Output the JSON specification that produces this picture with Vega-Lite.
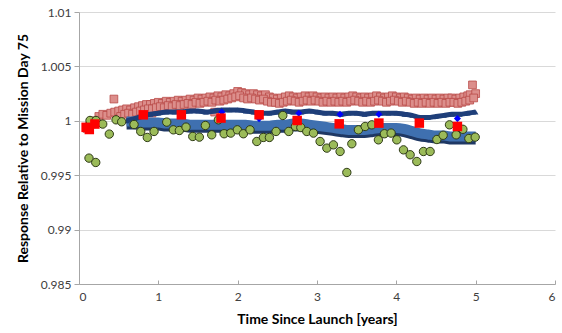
{
  "$schema": "https://vega.github.io/schema/vega-lite/v6.json",
  "width": 476,
  "height": 272,
  "autosize": {"type": "none"},
  "padding": {"left": 79, "top": 12, "right": 6, "bottom": 49},
  "background": "white",
  "config": {
    "view": {"stroke": null},
    "font": "Lato",
    "axis": {"labelFont": "Lato", "titleFont": "Lato", "labelColor": "#404040", "titleColor": "#000000", "domainColor": "#a6a6a6", "tickColor": "#a6a6a6", "gridColor": "#d9d9d9"}
  },
  "datasets": {
    "pink": [
      {"t": 0.10, "v": 0.9993}, {"t": 0.13, "v": 0.9995}, {"t": 0.16, "v": 0.9997}, {"t": 0.20, "v": 1.0000},
      {"t": 0.25, "v": 1.0004}, {"t": 0.30, "v": 1.0006}, {"t": 0.35, "v": 1.0005}, {"t": 0.40, "v": 1.0007},
      {"t": 0.44, "v": 1.0020}, {"t": 0.45, "v": 1.0008}, {"t": 0.50, "v": 1.0009}, {"t": 0.55, "v": 1.0010},
      {"t": 0.60, "v": 1.0011}, {"t": 0.65, "v": 1.0010}, {"t": 0.70, "v": 1.0012}, {"t": 0.75, "v": 1.0013},
      {"t": 0.80, "v": 1.0014}, {"t": 0.85, "v": 1.0015}, {"t": 0.90, "v": 1.0015}, {"t": 0.92, "v": 1.0007},
      {"t": 0.95, "v": 1.0016}, {"t": 1.00, "v": 1.0017}, {"t": 1.05, "v": 1.0016}, {"t": 1.10, "v": 1.0018},
      {"t": 1.15, "v": 1.0017}, {"t": 1.20, "v": 1.0018}, {"t": 1.25, "v": 1.0019}, {"t": 1.30, "v": 1.0018},
      {"t": 1.35, "v": 1.0019}, {"t": 1.40, "v": 1.0020}, {"t": 1.45, "v": 1.0019}, {"t": 1.50, "v": 1.0021},
      {"t": 1.55, "v": 1.0020}, {"t": 1.60, "v": 1.0021}, {"t": 1.65, "v": 1.0022}, {"t": 1.70, "v": 1.0021},
      {"t": 1.71, "v": 1.0008}, {"t": 1.75, "v": 1.0023}, {"t": 1.80, "v": 1.0022}, {"t": 1.85, "v": 1.0024},
      {"t": 1.90, "v": 1.0023}, {"t": 1.95, "v": 1.0025}, {"t": 2.00, "v": 1.0027}, {"t": 2.05, "v": 1.0026},
      {"t": 2.10, "v": 1.0025}, {"t": 2.15, "v": 1.0024}, {"t": 2.20, "v": 1.0025}, {"t": 2.25, "v": 1.0024},
      {"t": 2.30, "v": 1.0023}, {"t": 2.35, "v": 1.0024}, {"t": 2.40, "v": 1.0022}, {"t": 2.45, "v": 1.0021},
      {"t": 2.50, "v": 1.0020}, {"t": 2.55, "v": 1.0021}, {"t": 2.60, "v": 1.0022}, {"t": 2.65, "v": 1.0023},
      {"t": 2.70, "v": 1.0022}, {"t": 2.75, "v": 1.0021}, {"t": 2.80, "v": 1.0022}, {"t": 2.85, "v": 1.0023},
      {"t": 2.90, "v": 1.0022}, {"t": 2.95, "v": 1.0023}, {"t": 3.00, "v": 1.0022}, {"t": 3.05, "v": 1.0021},
      {"t": 3.10, "v": 1.0022}, {"t": 3.15, "v": 1.0021}, {"t": 3.20, "v": 1.0022}, {"t": 3.25, "v": 1.0021},
      {"t": 3.30, "v": 1.0022}, {"t": 3.35, "v": 1.0021}, {"t": 3.40, "v": 1.0022}, {"t": 3.45, "v": 1.0023},
      {"t": 3.50, "v": 1.0022}, {"t": 3.55, "v": 1.0021}, {"t": 3.60, "v": 1.0022}, {"t": 3.65, "v": 1.0021},
      {"t": 3.70, "v": 1.0022}, {"t": 3.75, "v": 1.0023}, {"t": 3.80, "v": 1.0022}, {"t": 3.85, "v": 1.0021},
      {"t": 3.90, "v": 1.0022}, {"t": 3.95, "v": 1.0023}, {"t": 4.00, "v": 1.0022}, {"t": 4.05, "v": 1.0021},
      {"t": 4.10, "v": 1.0022}, {"t": 4.15, "v": 1.0021}, {"t": 4.20, "v": 1.0020}, {"t": 4.25, "v": 1.0021},
      {"t": 4.30, "v": 1.0020}, {"t": 4.35, "v": 1.0021}, {"t": 4.40, "v": 1.0020}, {"t": 4.45, "v": 1.0021},
      {"t": 4.50, "v": 1.0020}, {"t": 4.55, "v": 1.0021}, {"t": 4.60, "v": 1.0020}, {"t": 4.65, "v": 1.0021},
      {"t": 4.70, "v": 1.0021}, {"t": 4.75, "v": 1.0020}, {"t": 4.80, "v": 1.0021}, {"t": 4.85, "v": 1.0022},
      {"t": 4.90, "v": 1.0023}, {"t": 4.93, "v": 1.0024}, {"t": 4.96, "v": 1.0033}, {"t": 5.00, "v": 1.0025},
      {"t": 0.525, "v": 1.0004}, {"t": 0.575, "v": 1.0006}, {"t": 0.625, "v": 1.0007}, {"t": 0.675, "v": 1.0006},
      {"t": 0.725, "v": 1.0008}, {"t": 0.775, "v": 1.0009}, {"t": 0.825, "v": 1.0010}, {"t": 0.875, "v": 1.0011},
      {"t": 0.925, "v": 1.0011}, {"t": 0.975, "v": 1.0012}, {"t": 1.025, "v": 1.0013}, {"t": 1.075, "v": 1.0012},
      {"t": 1.125, "v": 1.0014}, {"t": 1.175, "v": 1.0013}, {"t": 1.225, "v": 1.0015}, {"t": 1.275, "v": 1.0014},
      {"t": 1.325, "v": 1.0015}, {"t": 1.375, "v": 1.0016}, {"t": 1.425, "v": 1.0015}, {"t": 1.475, "v": 1.0017},
      {"t": 1.525, "v": 1.0016}, {"t": 1.575, "v": 1.0017}, {"t": 1.625, "v": 1.0018}, {"t": 1.675, "v": 1.0017},
      {"t": 1.725, "v": 1.0019}, {"t": 1.775, "v": 1.0018}, {"t": 1.825, "v": 1.0019}, {"t": 1.875, "v": 1.0020},
      {"t": 1.925, "v": 1.0021}, {"t": 1.975, "v": 1.0022}, {"t": 2.025, "v": 1.0023}, {"t": 2.075, "v": 1.0021},
      {"t": 2.125, "v": 1.0020}, {"t": 2.175, "v": 1.0021}, {"t": 2.225, "v": 1.0020}, {"t": 2.275, "v": 1.0019},
      {"t": 2.325, "v": 1.0020}, {"t": 2.375, "v": 1.0018}, {"t": 2.425, "v": 1.0017}, {"t": 2.475, "v": 1.0017},
      {"t": 2.525, "v": 1.0016}, {"t": 2.575, "v": 1.0017}, {"t": 2.625, "v": 1.0018}, {"t": 2.675, "v": 1.0019},
      {"t": 2.725, "v": 1.0018}, {"t": 2.775, "v": 1.0017}, {"t": 2.825, "v": 1.0018}, {"t": 2.875, "v": 1.0019},
      {"t": 2.925, "v": 1.0018}, {"t": 2.975, "v": 1.0019}, {"t": 3.025, "v": 1.0018}, {"t": 3.075, "v": 1.0017},
      {"t": 3.125, "v": 1.0018}, {"t": 3.175, "v": 1.0017}, {"t": 3.225, "v": 1.0018}, {"t": 3.275, "v": 1.0017},
      {"t": 3.325, "v": 1.0018}, {"t": 3.375, "v": 1.0017}, {"t": 3.425, "v": 1.0018}, {"t": 3.475, "v": 1.0019},
      {"t": 3.525, "v": 1.0018}, {"t": 3.575, "v": 1.0017}, {"t": 3.625, "v": 1.0018}, {"t": 3.675, "v": 1.0017},
      {"t": 3.725, "v": 1.0018}, {"t": 3.775, "v": 1.0019}, {"t": 3.825, "v": 1.0018}, {"t": 3.875, "v": 1.0017},
      {"t": 3.925, "v": 1.0018}, {"t": 3.975, "v": 1.0019}, {"t": 4.025, "v": 1.0018}, {"t": 4.075, "v": 1.0017},
      {"t": 4.125, "v": 1.0018}, {"t": 4.175, "v": 1.0017}, {"t": 4.225, "v": 1.0016}, {"t": 4.275, "v": 1.0017},
      {"t": 4.325, "v": 1.0016}, {"t": 4.375, "v": 1.0017}, {"t": 4.425, "v": 1.0016}, {"t": 4.475, "v": 1.0017},
      {"t": 4.525, "v": 1.0016}, {"t": 4.575, "v": 1.0017}, {"t": 4.625, "v": 1.0016}, {"t": 4.675, "v": 1.0017},
      {"t": 4.725, "v": 1.0017}, {"t": 4.775, "v": 1.0016}, {"t": 4.825, "v": 1.0017}, {"t": 4.875, "v": 1.0018},
      {"t": 4.925, "v": 1.0019}, {"t": 4.975, "v": 1.0021}
    ],
    "navy": [
      {"t": 0.6, "v": 1.0000}, {"t": 0.7, "v": 1.0002}, {"t": 0.8, "v": 1.0004}, {"t": 0.9, "v": 1.0006},
      {"t": 1.0, "v": 1.0007}, {"t": 1.1, "v": 1.0008}, {"t": 1.2, "v": 1.0008}, {"t": 1.3, "v": 1.0008},
      {"t": 1.4, "v": 1.0009}, {"t": 1.5, "v": 1.0009}, {"t": 1.6, "v": 1.0008}, {"t": 1.7, "v": 1.0009},
      {"t": 1.8, "v": 1.0010}, {"t": 1.9, "v": 1.0010}, {"t": 2.0, "v": 1.0010}, {"t": 2.1, "v": 1.0009},
      {"t": 2.2, "v": 1.0008}, {"t": 2.3, "v": 1.0007}, {"t": 2.4, "v": 1.0007}, {"t": 2.5, "v": 1.0008},
      {"t": 2.6, "v": 1.0009}, {"t": 2.7, "v": 1.0008}, {"t": 2.8, "v": 1.0008}, {"t": 2.9, "v": 1.0009},
      {"t": 3.0, "v": 1.0008}, {"t": 3.1, "v": 1.0007}, {"t": 3.2, "v": 1.0007}, {"t": 3.3, "v": 1.0006},
      {"t": 3.4, "v": 1.0007}, {"t": 3.5, "v": 1.0007}, {"t": 3.6, "v": 1.0006}, {"t": 3.7, "v": 1.0007},
      {"t": 3.8, "v": 1.0007}, {"t": 3.9, "v": 1.0007}, {"t": 4.0, "v": 1.0007}, {"t": 4.1, "v": 1.0006},
      {"t": 4.2, "v": 1.0005}, {"t": 4.3, "v": 1.0003}, {"t": 4.4, "v": 1.0003}, {"t": 4.5, "v": 1.0004},
      {"t": 4.6, "v": 1.0005}, {"t": 4.7, "v": 1.0006}, {"t": 4.8, "v": 1.0006}, {"t": 4.9, "v": 1.0007},
      {"t": 5.0, "v": 1.0008}
    ],
    "band": [
      {"t": 0.6, "v": 0.9999}, {"t": 0.7, "v": 0.9999}, {"t": 0.8, "v": 0.9998}, {"t": 0.9, "v": 0.9998},
      {"t": 1.0, "v": 0.9998}, {"t": 1.1, "v": 0.9997}, {"t": 1.2, "v": 0.9997}, {"t": 1.3, "v": 0.9997},
      {"t": 1.4, "v": 0.9996}, {"t": 1.5, "v": 0.9996}, {"t": 1.6, "v": 0.9996}, {"t": 1.7, "v": 0.9996},
      {"t": 1.8, "v": 0.9996}, {"t": 1.9, "v": 0.9996}, {"t": 2.0, "v": 0.9996}, {"t": 2.1, "v": 0.9996},
      {"t": 2.2, "v": 0.9995}, {"t": 2.3, "v": 0.9995}, {"t": 2.4, "v": 0.9995}, {"t": 2.5, "v": 0.9996},
      {"t": 2.6, "v": 0.9996}, {"t": 2.7, "v": 0.9997}, {"t": 2.8, "v": 0.9997}, {"t": 2.9, "v": 0.9996},
      {"t": 3.0, "v": 0.9995}, {"t": 3.1, "v": 0.9994}, {"t": 3.2, "v": 0.9993}, {"t": 3.3, "v": 0.9992},
      {"t": 3.4, "v": 0.9991}, {"t": 3.5, "v": 0.9991}, {"t": 3.6, "v": 0.9991}, {"t": 3.7, "v": 0.9992},
      {"t": 3.8, "v": 0.9993}, {"t": 3.9, "v": 0.9993}, {"t": 4.0, "v": 0.9993}, {"t": 4.1, "v": 0.9992},
      {"t": 4.2, "v": 0.9990}, {"t": 4.3, "v": 0.9988}, {"t": 4.4, "v": 0.9987}, {"t": 4.5, "v": 0.9986},
      {"t": 4.6, "v": 0.9986}, {"t": 4.7, "v": 0.9985}, {"t": 4.8, "v": 0.9985}, {"t": 4.9, "v": 0.9985},
      {"t": 5.0, "v": 0.9985}
    ],
    "green": [
      {"t": 0.126, "v": 0.99657}, {"t": 0.211, "v": 0.99617}, {"t": 0.139, "v": 1.00003}, {"t": 0.214, "v": 1.00003},
      {"t": 0.299, "v": 0.99970}, {"t": 0.382, "v": 0.99878}, {"t": 0.467, "v": 1.00009}, {"t": 0.538, "v": 0.99991},
      {"t": 0.694, "v": 0.99966}, {"t": 0.778, "v": 0.99902}, {"t": 0.861, "v": 0.99847}, {"t": 0.946, "v": 0.99902},
      {"t": 1.106, "v": 0.99988}, {"t": 1.189, "v": 0.99917}, {"t": 1.265, "v": 0.99911}, {"t": 1.349, "v": 0.99942},
      {"t": 1.434, "v": 0.99856}, {"t": 1.517, "v": 0.99850}, {"t": 1.593, "v": 0.99957}, {"t": 1.673, "v": 0.99871},
      {"t": 1.757, "v": 1.00009}, {"t": 1.829, "v": 0.99881}, {"t": 1.913, "v": 0.99887}, {"t": 1.996, "v": 0.99917},
      {"t": 2.072, "v": 0.99881}, {"t": 2.156, "v": 0.99917}, {"t": 2.241, "v": 0.99810}, {"t": 2.324, "v": 0.99847},
      {"t": 2.400, "v": 0.99847}, {"t": 2.484, "v": 0.99902}, {"t": 2.569, "v": 1.00049}, {"t": 2.644, "v": 0.99902},
      {"t": 2.728, "v": 0.99948}, {"t": 2.796, "v": 0.99938}, {"t": 2.871, "v": 0.99902}, {"t": 2.955, "v": 0.99887},
      {"t": 3.039, "v": 0.99810}, {"t": 3.124, "v": 0.99749}, {"t": 3.207, "v": 0.99779}, {"t": 3.291, "v": 0.99718},
      {"t": 3.376, "v": 0.99525}, {"t": 3.439, "v": 0.99789}, {"t": 3.522, "v": 0.99917}, {"t": 3.607, "v": 0.99948},
      {"t": 3.691, "v": 0.99963}, {"t": 3.774, "v": 0.99825}, {"t": 3.850, "v": 0.99881}, {"t": 3.934, "v": 0.99887},
      {"t": 4.006, "v": 0.99825}, {"t": 4.090, "v": 0.99733}, {"t": 4.174, "v": 0.99688}, {"t": 4.258, "v": 0.99626},
      {"t": 4.342, "v": 0.99718}, {"t": 4.426, "v": 0.99718}, {"t": 4.511, "v": 0.99828}, {"t": 4.590, "v": 0.99867},
      {"t": 4.670, "v": 0.99963}, {"t": 4.754, "v": 0.99871}, {"t": 4.839, "v": 0.99922}, {"t": 4.914, "v": 0.99837},
      {"t": 4.994, "v": 0.99850}
    ],
    "red": [
      {"t": 0.09, "v": 0.9994}, {"t": 0.13, "v": 0.9992}, {"t": 0.20, "v": 0.9997},
      {"t": 0.81, "v": 1.00055}, {"t": 1.29, "v": 1.00055}, {"t": 1.79, "v": 1.00025}, {"t": 2.27, "v": 1.00055},
      {"t": 2.75, "v": 1.00003}, {"t": 3.28, "v": 0.99972}, {"t": 3.78, "v": 0.99979}, {"t": 4.29, "v": 0.99979},
      {"t": 4.77, "v": 0.99948}
    ],
    "blue": [
      {"t": 1.80, "v": 1.0008}, {"t": 2.27, "v": 1.0002}, {"t": 2.77, "v": 1.0007}, {"t": 3.29, "v": 1.0006},
      {"t": 3.78, "v": 1.0006}, {"t": 4.77, "v": 1.0002}
    ]
  },
  "encoding": {
    "x": {"field": "t", "type": "quantitative",
      "scale": {"domain": [0, 6], "nice": false},
      "axis": {"title": "Time Since Launch [years]", "values": [0, 1, 2, 3, 4, 5, 6], "format": "d", "grid": false,
        "tickSize": -4, "labelPadding": 11, "labelFontSize": 12, "titleFontSize": 14, "titleFontWeight": "bold", "titlePadding": 10}},
    "y": {"field": "v", "type": "quantitative",
      "scale": {"domain": [0.985, 1.01], "nice": false, "zero": false},
      "axis": {"title": "Response Relative to Mission Day 75", "values": [0.985, 0.99, 0.995, 1, 1.005, 1.01], "format": "~g",
        "grid": true, "tickSize": 5, "labelPadding": 3, "labelFontSize": 12, "titleFontSize": 14, "titleFontWeight": "bold", "titlePadding": 10}}
  },
  "layer": [
    {"data": {"name": "pink"}, "mark": {"type": "point", "shape": "square", "filled": true, "size": 60, "fill": "#dc8e8b", "stroke": "#b94a47", "strokeWidth": 0.8, "opacity": 1}},
    {"data": {"name": "band"}, "mark": {"type": "line", "color": "#1f3864", "strokeWidth": 12, "yOffset": 1.5, "interpolate": "monotone"}},
    {"data": {"name": "band"}, "mark": {"type": "line", "color": "#3f70b0", "strokeWidth": 10, "yOffset": -0.5, "interpolate": "monotone"}},
    {"data": {"name": "navy"}, "mark": {"type": "line", "color": "#1f3f7a", "strokeWidth": 5, "interpolate": "monotone"}},
    {"data": {"name": "navy"}, "mark": {"type": "point", "shape": "triangle-up", "filled": true, "size": 30, "color": "#1f3f7a", "opacity": 1}},
    {"data": {"name": "green"}, "mark": {"type": "point", "shape": "circle", "filled": true, "size": 70, "fill": "#9bbb59", "stroke": "#2e3a16", "strokeWidth": 1, "opacity": 1}},
    {"data": {"name": "blue"}, "mark": {"type": "point", "shape": "diamond", "filled": true, "size": 50, "color": "#0000ff", "opacity": 1}},
    {"data": {"name": "red"}, "mark": {"type": "point", "shape": "square", "filled": true, "size": 90, "color": "#ff0000", "opacity": 1}}
  ]
}
